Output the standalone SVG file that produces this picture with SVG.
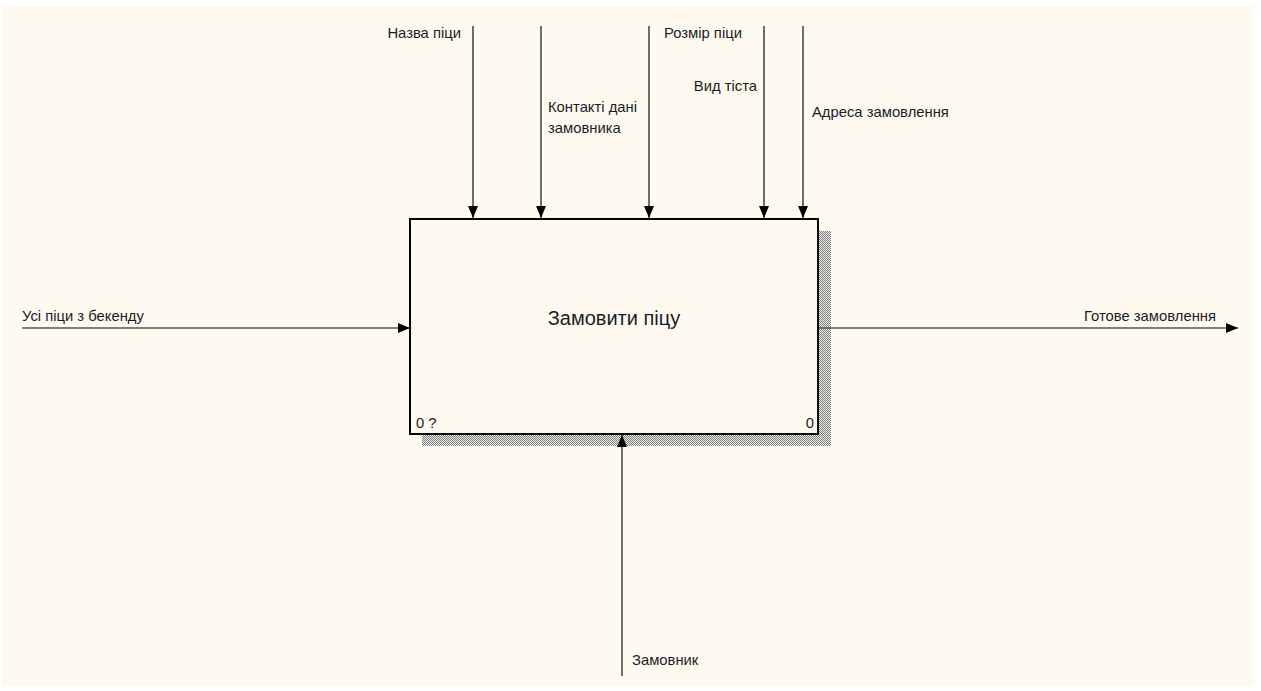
<svg xmlns="http://www.w3.org/2000/svg" width="1261" height="691" viewBox="0 0 1261 691">
<style>
.lbl{font-family:"Liberation Sans",Arial,sans-serif;font-size:14.8px;fill:#1c1c28}
.ttl{font-family:"Liberation Sans",Arial,sans-serif;font-size:20px;fill:#1c1c28}
.v{stroke:#222;stroke-width:1.3;fill:none}
.h{stroke:#555;stroke-width:1.6;fill:none}
</style>
<defs>
<pattern id="hatch" width="2" height="2" patternUnits="userSpaceOnUse">
<rect width="2" height="2" fill="#ecebe6"/>
<rect width="1" height="1" fill="#808080"/>
<rect x="1" y="1" width="1" height="1" fill="#808080"/>
</pattern>
<marker id="arr" viewBox="0 0 12 10" refX="12" refY="5" markerWidth="12" markerHeight="10" markerUnits="userSpaceOnUse" orient="auto">
<path d="M0,0 L12,5 L0,10 Z" fill="#000"/>
</marker>
</defs>
<rect width="1261" height="691" fill="#ffffff"/>
<rect x="2" y="6" width="1251" height="680" fill="#fffaef"/>
<g id="node-main">
<rect x="819" y="231" width="12" height="215" fill="url(#hatch)"/>
<rect x="422" y="435" width="409" height="11" fill="url(#hatch)"/>
<rect x="410" y="219" width="408" height="215" fill="#fffaef" stroke="#000" stroke-width="2"/>
<text class="ttl" x="614" y="325" text-anchor="middle">Замовити піцу</text>
<text class="lbl" x="416" y="428">0 ?</text>
<text class="lbl" x="814" y="428" text-anchor="end">0</text>
</g>
<g id="connectors">
<line class="v" x1="473" y1="26" x2="473" y2="218" marker-end="url(#arr)"/>
<line class="v" x1="541" y1="26" x2="541" y2="218" marker-end="url(#arr)"/>
<line class="v" x1="649" y1="26" x2="649" y2="218" marker-end="url(#arr)"/>
<line class="v" x1="764" y1="26" x2="764" y2="218" marker-end="url(#arr)"/>
<line class="v" x1="803" y1="26" x2="803" y2="218" marker-end="url(#arr)"/>
<line class="h" x1="22" y1="328" x2="410" y2="328" marker-end="url(#arr)"/>
<line class="h" x1="819" y1="328" x2="1238" y2="328" marker-end="url(#arr)"/>
<line class="v" x1="622" y1="676" x2="622" y2="435" marker-end="url(#arr)"/>
</g>
<g id="labels">
<text class="lbl" x="461" y="38" text-anchor="end">Назва піци</text>
<text class="lbl" x="548" y="112">Контакті дані</text>
<text class="lbl" x="548" y="133">замовника</text>
<text class="lbl" x="664" y="38">Розмір піци</text>
<text class="lbl" x="757" y="91" text-anchor="end">Вид тіста</text>
<text class="lbl" x="812" y="117">Адреса замовлення</text>
<text class="lbl" x="22" y="321">Усі піци з бекенду</text>
<text class="lbl" x="1216" y="321" text-anchor="end">Готове замовлення</text>
<text class="lbl" x="632" y="665">Замовник</text>
</g>
</svg>
